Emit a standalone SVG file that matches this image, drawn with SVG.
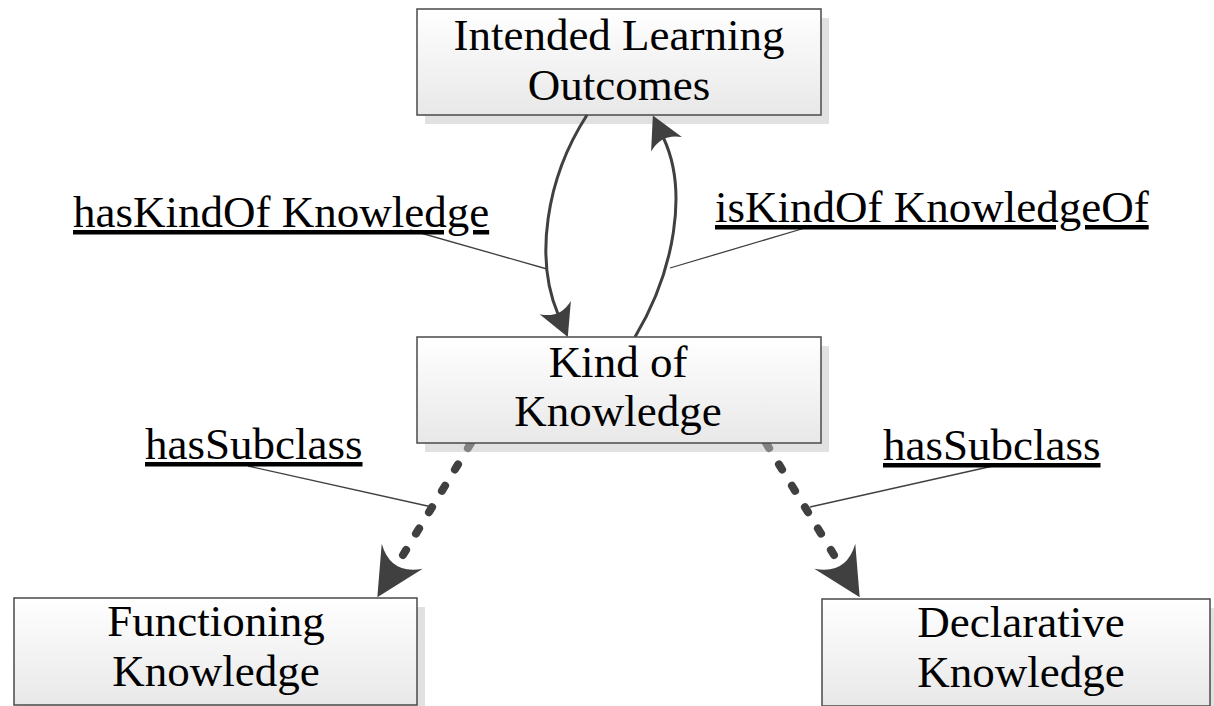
<svg xmlns="http://www.w3.org/2000/svg" width="1214" height="706" viewBox="0 0 1214 706">
  <style>
    .box { fill: url(#boxFill); stroke: #4a4a4a; stroke-width: 1.5; }
    .shadow { fill: #c4c4c4; opacity: 0.5; }
    .node-text { font-family: "Liberation Serif", "Times New Roman", serif; font-size: 45px; fill: #000; text-anchor: middle; }
    .label { font-family: "Liberation Serif", "Times New Roman", serif; font-size: 45px; fill: #000; text-decoration: underline; }
    .curve { fill: none; stroke: #404040; stroke-width: 3; }
    .dashed { fill: none; stroke: #404040; stroke-width: 8; stroke-linecap: round; stroke-dasharray: 6 19; }
    .leader { fill: none; stroke: #404040; stroke-width: 1.3; }
  </style>
  <defs>
    <linearGradient id="boxFill" x1="0" y1="0" x2="0" y2="1">
      <stop offset="0" stop-color="#ffffff"/>
      <stop offset="1" stop-color="#e8e8e8"/>
    </linearGradient>
    <!-- small swept arrowhead, line ends in the notch -->
    <marker id="arrowSmall" viewBox="-34 -19 36 38" markerWidth="36" markerHeight="38" refX="-25" refY="0" markerUnits="userSpaceOnUse" orient="auto">
      <path d="M0,0 L-32,-17 Q-20,0 -32,17 Z" fill="#404040"/>
    </marker>
    <!-- large swept arrowhead for the subclass links -->
    <marker id="arrowLarge" viewBox="-50 -26 52 52" markerWidth="52" markerHeight="52" refX="-36" refY="0" markerUnits="userSpaceOnUse" orient="auto">
      <path d="M0,0 L-48,-24 Q-26,0 -48,24 Z" fill="#404040"/>
    </marker>
  </defs>

  <rect width="1214" height="706" fill="#ffffff"/>

  <g id="node-intended-learning-outcomes">
    <rect class="shadow" x="425" y="18" width="404" height="106"/>
    <rect class="box" x="417" y="9" width="404" height="106"/>
    <text class="node-text" x="619" y="50">Intended Learning</text>
    <text class="node-text" x="619" y="100">Outcomes</text>
  </g>

  <g id="connectors">
    <path class="curve" d="M587,115 C545,180 535,260 558,314" marker-end="url(#arrowSmall)"/>
    <path class="curve" d="M635,337 C675,270 688,190 663.5,138" marker-end="url(#arrowSmall)"/>
    <path class="dashed" d="M471,443 L396,566.5" marker-end="url(#arrowLarge)"/>
    <path class="dashed" d="M766,443 L841,566.5" marker-end="url(#arrowLarge)"/>

    <line class="leader" x1="410" y1="230" x2="547" y2="269"/>
    <line class="leader" x1="805" y1="228" x2="670" y2="268"/>
    <line class="leader" x1="248" y1="466" x2="432" y2="507"/>
    <line class="leader" x1="993" y1="466" x2="810" y2="507"/>

    <text class="label" x="73" y="227">hasKindOf Knowledge</text>
    <text class="label" x="715" y="222">isKindOf KnowledgeOf</text>
    <text class="label" x="145" y="459">hasSubclass</text>
    <text class="label" x="883" y="460">hasSubclass</text>
  </g>

  <g id="node-kind-of-knowledge">
    <rect class="shadow" x="425" y="346" width="404" height="106"/>
    <rect class="box" x="417" y="337" width="404" height="106"/>
    <text class="node-text" x="618" y="377">Kind of</text>
    <text class="node-text" x="618" y="426">Knowledge</text>
  </g>

  <g id="node-functioning-knowledge">
    <rect class="shadow" x="22" y="607" width="403" height="107"/>
    <rect class="box" x="14" y="598" width="403" height="107"/>
    <text class="node-text" x="216" y="636">Functioning</text>
    <text class="node-text" x="216" y="686">Knowledge</text>
  </g>

  <g id="node-declarative-knowledge">
    <rect class="shadow" x="830" y="608" width="388" height="107"/>
    <rect class="box" x="822" y="599" width="388" height="107"/>
    <text class="node-text" x="1021" y="637">Declarative</text>
    <text class="node-text" x="1021" y="687">Knowledge</text>
  </g>
</svg>
